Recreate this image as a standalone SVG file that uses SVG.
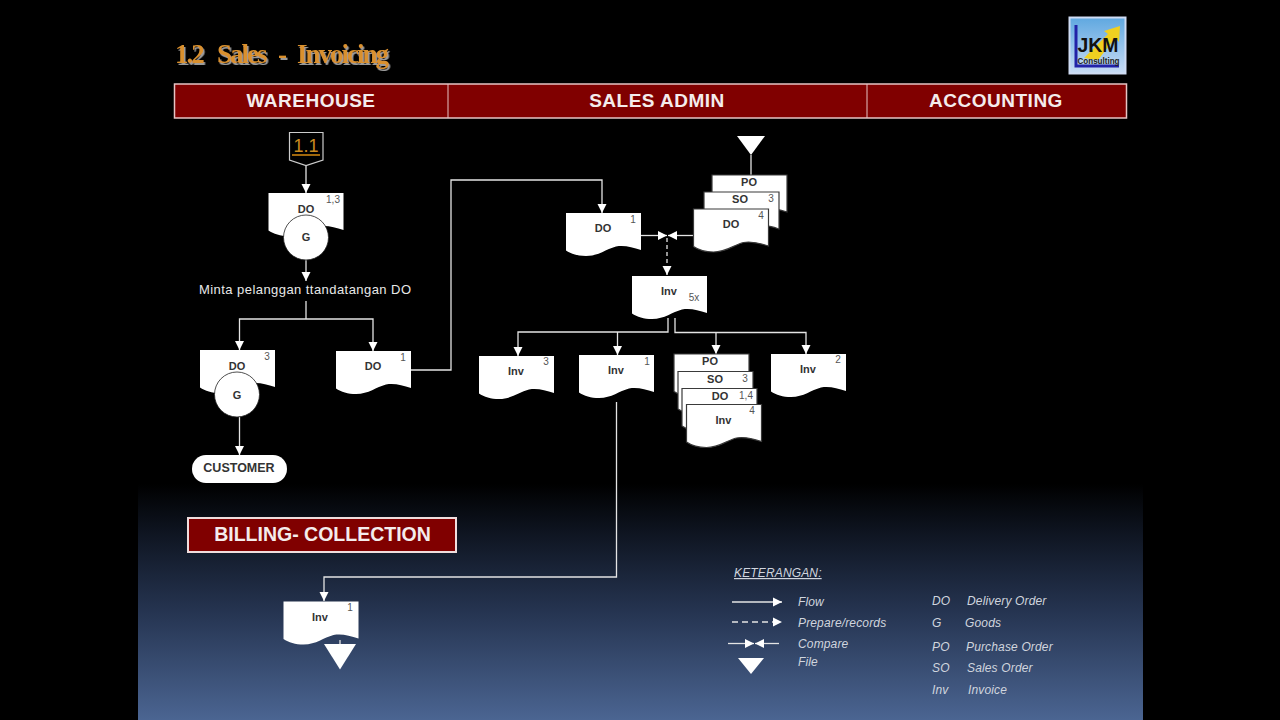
<svg xmlns="http://www.w3.org/2000/svg" width="1280" height="720" viewBox="0 0 1280 720">
<style>
text{font-family:"Liberation Sans",Arial,sans-serif}
.doc{fill:#fff;stroke:none}
.stk{stroke:#3a3a3a;stroke-width:1.2}
.lb{font-size:11px;font-weight:700;fill:#333;text-anchor:middle}
.n{font-size:10px;fill:#555;text-anchor:middle}
.c{fill:none;stroke:#e4e4e4;stroke-width:1.3}
.a{marker-end:url(#arr)}
.hd{font-size:19px;font-weight:700;fill:#f4ecec;text-anchor:middle;letter-spacing:.5px}
.leg{font-size:12px;font-style:italic;fill:#d0d5de;letter-spacing:.15px}
.circ{fill:#fff;stroke:#222;stroke-width:.8}
</style>
<defs>
<linearGradient id="bg" x1="0" y1="0" x2="0" y2="1">
<stop offset="0" stop-color="#000"/><stop offset=".2" stop-color="#0e1420"/><stop offset=".55" stop-color="#263552"/><stop offset="1" stop-color="#4b6592"/>
</linearGradient>
<linearGradient id="lg" x1="0" y1="0" x2="0" y2="1"><stop offset="0" stop-color="#5fa8e0"/><stop offset="1" stop-color="#c9dcf5"/></linearGradient>
<filter id="sh" x="-5%" y="-20%" width="115%" height="150%"><feDropShadow dx="1.5" dy="2" stdDeviation=".7" flood-color="#9a9a9a"/></filter>
<marker id="arr" markerUnits="userSpaceOnUse" markerWidth="10" markerHeight="10" refX="9" refY="5" orient="auto"><path d="M0 .5L9 5L0 9.500Z" fill="#fff"/></marker>
<path id="d" d="M0 0H75V37C66 34 58 32 50 33.500C40 36 33 43 20 43C12 43 5 41 0 37.500Z"/>
</defs>
<rect width="1280" height="720" fill="#000"/>
<rect x="138" y="484" width="1005" height="236" fill="url(#bg)"/>
<g id="title"><text y="63" font-size="27" font-weight="700" style="font-family:'Liberation Serif',serif;letter-spacing:-2px" fill="#d9902e" filter="url(#sh)"><tspan x="175">1.2</tspan> <tspan x="217">Sales</tspan> <tspan x="278">-</tspan> <tspan x="297">Invoicing</tspan></text></g>
<g id="logo">
<rect x="1069.500" y="17.500" width="56" height="56" fill="url(#lg)" stroke="#cfdcf4" stroke-width="2"/>
<path d="M1084 58L1108 34L1104 31L1120 26L1119 42L1115 38L1098 60Z" fill="#f0d020"/>
<path d="M1076 25V66H1119" fill="none" stroke="#2222a8" stroke-width="3"/>
<text x="1098" y="52" font-size="20" font-weight="700" fill="#111" text-anchor="middle" textLength="41" lengthAdjust="spacingAndGlyphs">JKM</text>
<text x="1098.500" y="64" font-size="9" font-weight="700" fill="#222" text-anchor="middle" textLength="42" lengthAdjust="spacingAndGlyphs">Consulting</text>
</g>
<g id="header">
<rect x="174.500" y="84" width="952" height="34" fill="#800000" stroke="#e6c4c4" stroke-width="1.500"/>
<path d="M448 84V118M867 84V118" stroke="#e6c4c4" stroke-width="1"/>
<text class="hd" x="311" y="107">WAREHOUSE</text>
<text class="hd" x="657" y="107">SALES ADMIN</text>
<text class="hd" x="996" y="107">ACCOUNTING</text>
</g>
<g id="connectors">
<path class="c a" d="M306 166V193"/>
<path class="c a" d="M306 260V281"/>
<path class="c" d="M306 301V319"/>
<path class="c a" d="M306 319H239.500V350"/>
<path class="c a" d="M306 319H373V351"/>
<path class="c a" d="M239.500 417V455"/>
<path class="c a" d="M411 370H451V180H602V213"/>
<path class="c" d="M751 155V175"/>
<path class="c a" d="M641 235.500H667"/>
<path class="c a" d="M693 235.500H668"/>
<path class="c a" d="M667 238V275" stroke-dasharray="4 3"/>
<path class="c a" d="M668 318V332H518V356"/>
<path class="c a" d="M617.500 332V355"/>
<path class="c a" d="M675 318V332.500H806V354"/>
<path class="c a" d="M716 332.500V354"/>
<path class="c a" d="M616.500 402V577H324V601"/>
<path class="c" d="M340 640V644"/>
</g>
<g id="ref-1-1">
<path d="M289.500 132.500H323V160L306 165.500L289.500 160Z" fill="#000" stroke="#ccc" stroke-width="1.200"/>
<text x="306" y="152" font-size="18" fill="#c98a20" text-anchor="middle">1.1</text>
<path d="M292 155H320" stroke="#d68a10" stroke-width="1.500"/>
</g>
<g id="do-13"><use href="#d" x="268.500" y="193" class="doc"/><text class="lb" x="306" y="213">DO</text><text class="n" x="333" y="203">1,3</text><circle class="circ" cx="306" cy="237.500" r="22.500"/><text class="lb" x="306" y="241">G</text></g>
<text id="note" x="305" y="294" font-size="13" fill="#e8e8e8" text-anchor="middle" textLength="212" lengthAdjust="spacing">Minta pelanggan  ttandatangan DO</text>
<g id="do-3"><use href="#d" x="200" y="350" class="doc"/><text class="lb" x="237" y="370">DO</text><text class="n" x="267" y="360">3</text><circle class="circ" cx="237" cy="394.500" r="22.500"/><text class="lb" x="237" y="398.500">G</text></g>
<g id="do-1a"><use href="#d" x="336" y="351" class="doc"/><text class="lb" x="373" y="370">DO</text><text class="n" x="403" y="361">1</text></g>
<g id="customer"><rect x="192" y="455" width="95" height="28" rx="14" fill="#fff"/><text x="239" y="472" font-size="12.500" font-weight="700" fill="#333" text-anchor="middle">CUSTOMER</text></g>
<g id="billing"><rect x="188" y="518" width="268" height="34" fill="#800000" stroke="#f0dede" stroke-width="2"/><text x="322.500" y="541" font-size="19.500" font-weight="700" fill="#f4ecec" text-anchor="middle">BILLING- COLLECTION</text></g>
<g id="do-1b"><use href="#d" x="566" y="213" class="doc"/><text class="lb" x="603" y="232">DO</text><text class="n" x="633" y="223">1</text></g>
<g id="file-top"><path d="M737 136H765L751 155Z" fill="#fff"/></g>
<g id="stack-a">
<use href="#d" x="712" y="175" class="doc stk"/><text class="lb" x="749" y="186">PO</text>
<use href="#d" x="704" y="192" class="doc stk"/><text class="lb" x="740" y="203">SO</text><text class="n" x="771" y="202">3</text>
<use href="#d" x="693.500" y="209" class="doc stk"/><text class="lb" x="731" y="228">DO</text><text class="n" x="761" y="219">4</text>
</g>
<g id="inv-5x"><use href="#d" x="632" y="276" class="doc"/><text class="lb" x="669" y="295">Inv</text><text class="n" x="694" y="301">5x</text></g>
<g id="inv-3"><use href="#d" x="479" y="356" class="doc"/><text class="lb" x="516" y="375">Inv</text><text class="n" x="546" y="365">3</text></g>
<g id="inv-1"><use href="#d" x="579" y="355" class="doc"/><text class="lb" x="616" y="374">Inv</text><text class="n" x="647" y="365">1</text></g>
<g id="stack-b">
<use href="#d" x="674" y="354" class="doc stk"/><text class="lb" x="710" y="365">PO</text>
<use href="#d" x="678" y="371.500" class="doc stk"/><text class="lb" x="715" y="383">SO</text><text class="n" x="745" y="382">3</text>
<use href="#d" x="682" y="388.500" class="doc stk"/><text class="lb" x="720" y="400">DO</text><text class="n" x="746" y="399">1,4</text>
<use href="#d" x="686.500" y="404.500" class="doc stk"/><text class="lb" x="723.500" y="424">Inv</text><text class="n" x="752" y="414">4</text>
</g>
<g id="inv-2"><use href="#d" x="771" y="354" class="doc"/><text class="lb" x="808" y="373">Inv</text><text class="n" x="838" y="363">2</text></g>
<g id="inv-billing"><use href="#d" x="283.500" y="601.500" class="doc"/><text class="lb" x="320" y="621">Inv</text><text class="n" x="350" y="611">1</text><path d="M324 644H356L340 669.500Z" fill="#fff"/></g>
<g id="legend">
<text class="leg" x="734" y="577" text-decoration="underline">KETERANGAN:</text>
<path class="c a" d="M732 602H782"/>
<path class="c a" d="M732 622H782" stroke-dasharray="6 4"/>
<path class="c a" d="M728 643.500H754"/>
<path class="c a" d="M779 643.500H755"/>
<path d="M738 658H764L751 674Z" fill="#fff"/>
<text class="leg" x="798" y="606">Flow</text>
<text class="leg" x="798" y="627">Prepare/records</text>
<text class="leg" x="798" y="648">Compare</text>
<text class="leg" x="798" y="666">File</text>
<text class="leg" x="932" y="605">DO</text><text class="leg" x="967" y="605">Delivery Order</text>
<text class="leg" x="932" y="627">G</text><text class="leg" x="965" y="627">Goods</text>
<text class="leg" x="932" y="651">PO</text><text class="leg" x="966" y="651">Purchase Order</text>
<text class="leg" x="932" y="672">SO</text><text class="leg" x="967" y="672">Sales Order</text>
<text class="leg" x="932" y="694">Inv</text><text class="leg" x="968" y="694">Invoice</text>
</g>
</svg>
